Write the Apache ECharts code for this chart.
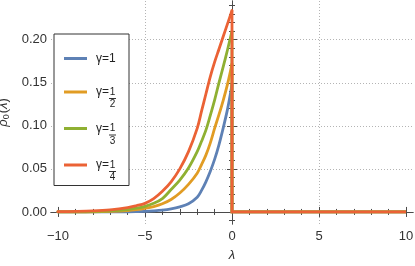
<!DOCTYPE html>
<html><head><meta charset="utf-8">
<script src="https://cdn.jsdelivr.net/npm/echarts@6/dist/echarts.min.js"></script>
<style>html,body{margin:0;padding:0;background:#fff}#c{width:415px;height:266px}</style>
</head><body><div id="c"></div>
<script>
// ---- data ----
const lambdas      = [-10, -9, -8, -7, -6, -5.5, -5, -4.5, -4, -3.5, -3, -2.5, -2, -1.75, -1.5, -1.25, -1, -0.75, -0.5, -0.25, 0, 0, 10];
const rhoGamma1    = [0, 0, 0, 0.0001, 0.0002, 0.0004, 0.0007, 0.0013, 0.0022, 0.0037, 0.006, 0.0095, 0.017, 0.025, 0.035, 0.047, 0.061, 0.078, 0.098, 0.120, 0.148, 0, 0];
const rhoGammaHalf = [0, 0.0001, 0.0002, 0.0006, 0.0015, 0.0026, 0.0042, 0.0063, 0.0095, 0.0145, 0.022, 0.032, 0.045, 0.055, 0.066, 0.080, 0.097, 0.113, 0.130, 0.149, 0.172, 0, 0];
const rhoGammaThird= [0.0001, 0.0002, 0.0005, 0.0012, 0.0028, 0.0043, 0.0065, 0.010, 0.0155, 0.026, 0.037, 0.051, 0.070, 0.082, 0.095, 0.112, 0.130, 0.150, 0.169, 0.189, 0.210, 0, 0];
const rhoGammaQuarter=[0.0003, 0.0006, 0.0012, 0.0025, 0.005, 0.0072, 0.010, 0.0155, 0.024, 0.035, 0.050, 0.070, 0.097, 0.117, 0.137, 0.157, 0.174, 0.189, 0.204, 0.219, 0.234, 0, 0];
const seriesNames  = ['γ=1', 'γ=1/2', 'γ=1/3', 'γ=1/4'];
const seriesColors = ['#5E81B5', '#E19C24', '#8FB032', '#EB6235'];
const xMajorTicks  = [-10, -5, 0, 5, 10];
const xMinorTicks  = [-9, -8, -7, -6, -4, -3, -2, -1, 1, 2, 3, 4, 6, 7, 8, 9];
const xGridValues  = [-5, 0, 5];
const yMajorTicks  = [0, 0.05, 0.10, 0.15, 0.20];
const yMinorTicks  = [-0.01, 0.01, 0.02, 0.03, 0.04, 0.06, 0.07, 0.08, 0.09, 0.11, 0.12, 0.13, 0.14, 0.16, 0.17, 0.18, 0.19, 0.21, 0.22, 0.23, 0.24];

const XMIN = -10.4, XMAX = 10.4, YMIN = -0.014, YMAX = 0.245;
const FRAME = '#4a4a4a';
const FONT = 'Liberation Sans';

const allSeries = [rhoGamma1, rhoGammaHalf, rhoGammaThird, rhoGammaQuarter];
const PEAK = lambdas.indexOf(0); // index of the peak at λ = 0

function xAxisDef(pos, ticks, len, opts) {
  return Object.assign({
    type: 'value', position: pos, min: XMIN, max: XMAX,
    axisLine: { show: false },
    axisTick: { show: len > 0, inside: true, length: len, customValues: ticks, lineStyle: { color: FRAME, width: 1 } },
    axisLabel: { show: false },
    splitLine: { show: false }
  }, opts || {});
}
function yAxisDef(pos, ticks, len, opts) {
  return Object.assign({
    type: 'value', position: pos, min: YMIN, max: YMAX,
    axisLine: { show: false },
    axisTick: { show: len > 0, inside: true, length: len, customValues: ticks, lineStyle: { color: FRAME, width: 1 } },
    axisLabel: { show: false },
    splitLine: { show: false }
  }, opts || {});
}

const legendText = {
  'γ=1':   '{e| }\n{g|γ=1}\n{e| }',
  'γ=1/2': '{h| }\n{g|γ=}{n|1}\n{pb|γ=}{b| }\n{pd|γ=}{d|2}',
  'γ=1/3': '{h| }\n{g|γ=}{n|1}\n{pb|γ=}{b| }\n{pd|γ=}{d|3}',
  'γ=1/4': '{h| }\n{g|γ=}{n|1}\n{pb|γ=}{b| }\n{pd|γ=}{d|4}'
};

const series = [];
seriesNames.forEach((name, i) => {
  const pts = lambdas.map((x, k) => [x, allSeries[i][k]]);
  series.push({
    name: name, type: 'line', xAxisIndex: 0, yAxisIndex: 0,
    symbol: 'none', showSymbol: false, smooth: 0.35,
    lineStyle: { width: 2.8, color: seriesColors[i], join: 'round', cap: 'round' },
    itemStyle: { color: seriesColors[i] },
    data: pts.slice(0, PEAK + 1), z: 2 + i
  });
  series.push({
    name: name, type: 'line', xAxisIndex: 0, yAxisIndex: 0,
    symbol: 'none', showSymbol: false, smooth: false,
    lineStyle: { width: 2.8, color: seriesColors[i], join: 'miter' },
    itemStyle: { color: seriesColors[i] },
    data: pts.slice(PEAK), z: 2 + i
  });
});

const chart = echarts.init(document.getElementById('c'), null, { renderer: 'canvas' });
chart.setOption({
  animation: false,
  backgroundColor: '#fff',
  grid: { left: 51, right: 2, top: 1, bottom: 42, containLabel: false, outerBoundsMode: 'none' },
  legend: {
    orient: 'vertical', left: 54, top: 34,
    padding: [9, 13, 2, 10], itemGap: 1,
    itemWidth: 23, itemHeight: 3, icon: 'rect',
    borderColor: '#333', borderWidth: 1, backgroundColor: '#fff',
    data: seriesNames,
    formatter: n => legendText[n],
    textStyle: {
      fontFamily: FONT, fontSize: 12, color: '#222', padding: [0, 0, 0, 4],
      rich: {
        e: { fontSize: 12, lineHeight: 9 },
        h: { fontSize: 12, lineHeight: 12 },
        g: { fontSize: 12, lineHeight: 10, fontFamily: FONT, color: '#222' },
        n: { fontSize: 10, lineHeight: 10, width: 7, align: 'center', fontFamily: FONT, color: '#222' },
        pb: { fontSize: 12, lineHeight: 3, color: 'rgba(0,0,0,0)' },
        b: { width: 7, height: 1, lineHeight: 3, fontSize: 1, backgroundColor: '#333' },
        pd: { fontSize: 12, lineHeight: 9, color: 'rgba(0,0,0,0)' },
        d: { fontSize: 10, lineHeight: 9, width: 7, align: 'center', fontFamily: FONT, color: '#222' }
      }
    }
  },
  xAxis: [
    xAxisDef('bottom', xMajorTicks, 5, {
      axisLine: { show: true, lineStyle: { color: FRAME, width: 1 } },
      axisLabel: { show: true, customValues: xMajorTicks, margin: 6, fontFamily: FONT, fontSize: 13, color: '#333',
        formatter: v => (v < 0 ? '\u2212' + Math.abs(v) : String(v)) },
      name: 'λ', nameLocation: 'middle', nameGap: 25,
      nameTextStyle: { fontFamily: FONT, fontSize: 13, fontStyle: 'italic', color: '#333' }
    }),
    xAxisDef('bottom', xMinorTicks, 3),
    xAxisDef('top', xMajorTicks, 5, { axisLine: { show: true, lineStyle: { color: FRAME, width: 1 } } }),
    xAxisDef('top', xMinorTicks, 3),
    xAxisDef('bottom', xGridValues, 0, { splitLine: { show: true, lineStyle: { type: [1, 2], color: '#b4b4b4', width: 1 } } })
  ],
  yAxis: [
    yAxisDef('left', yMajorTicks, 5, {
      axisLine: { show: true, lineStyle: { color: FRAME, width: 1 } },
      axisLabel: { show: true, customValues: yMajorTicks, margin: 4, fontFamily: FONT, fontSize: 13, color: '#333',
        formatter: v => v.toFixed(2) },
      name: '{i|ρ}{s|0}{u|(}{i|λ}{u|)}', nameLocation: 'middle', nameGap: 32, nameRotate: 90,
      nameTextStyle: { rich: {
        i: { fontFamily: FONT, fontSize: 13, fontStyle: 'italic', color: '#333' },
        u: { fontFamily: FONT, fontSize: 13, color: '#333' },
        s: { fontFamily: FONT, fontSize: 9, color: '#333', padding: [6, 1, 0, 0] }
      } }
    }),
    yAxisDef('left', yMinorTicks, 3),
    yAxisDef('right', yMajorTicks, 5, { axisLine: { show: true, lineStyle: { color: FRAME, width: 1 } } }),
    yAxisDef('right', yMinorTicks, 3),
    yAxisDef('left', yMajorTicks, 0, { splitLine: { show: true, lineStyle: { type: [1, 2], color: '#b4b4b4', width: 1 } } })
  ],
  series: series
});
</script></body></html>
